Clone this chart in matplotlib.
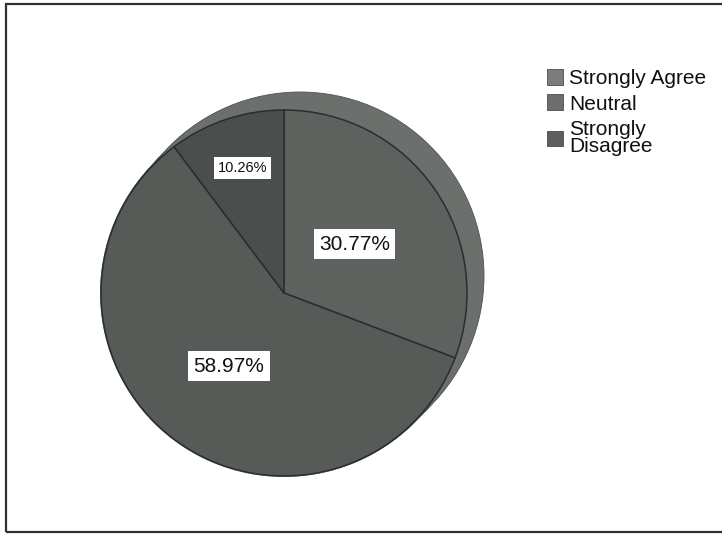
import numpy as np
import matplotlib
matplotlib.use("Agg")
import matplotlib.pyplot as plt
from matplotlib.patches import Circle, Patch, Rectangle

# Survey response shares (percent)
categories = ["Strongly Agree", "Neutral", "Strongly Disagree"]
legend_labels = ["Strongly Agree", "Neutral", "Strongly\nDisagree"]
shares = [30.77, 58.97, 10.26]

slice_colors = ["#5d625f", "#565b58", "#4a4e4c"]
swatch_colors = ["#7a7d7b", "#6b6e6c", "#5c5f5d"]
label_radius = [0.47, 0.50, 0.72]
label_sizes = [15, 15, 10.5]

plt.rcParams["font.family"] = ["Liberation Sans", "DejaVu Sans"]

W, H = 722, 534
fig = plt.figure(figsize=(W / 100, H / 100), dpi=100)
fig.patch.set_facecolor("white")
ax = fig.add_axes([0, 0, 1, 1])

# outer frame
ax.add_patch(Rectangle((6, 2), 730, 528, fill=False, edgecolor="#2e3232",
                       linewidth=1.6, zorder=1))

cx, cy, R = 284, 241, 183
depth = (16, 17)

# extruded rim behind the front face
for t in np.linspace(0, 1, 30):
    ax.add_patch(Circle((cx + depth[0] * t, cy + depth[1] * t), R + 1,
                        facecolor="#6b706d", edgecolor="none", zorder=2))
ax.add_patch(Circle((cx + depth[0], cy + depth[1]), R + 1, facecolor="none",
                    edgecolor="#505452", linewidth=0.6, zorder=2))

wedges, _ = ax.pie(shares, colors=slice_colors, startangle=90,
                   counterclock=False, center=(cx, cy), radius=R,
                   wedgeprops=dict(edgecolor="#2a2e2c", linewidth=1.1),
                   frame=True)
for w in wedges:
    w.set_zorder(3)
ax.set_xlim(0, W)
ax.set_ylim(0, H)
ax.set_aspect("equal")
ax.axis("off")

for w, v, rf, fs in zip(wedges, shares, label_radius, label_sizes):
    mid = np.deg2rad((w.theta1 + w.theta2) / 2)
    x = cx + rf * R * np.cos(mid)
    y = cy + rf * R * np.sin(mid)
    ax.text(x, y, f"{v:.2f}%", ha="center", va="center", fontsize=fs,
            color="#111111", zorder=5,
            bbox=dict(boxstyle="square,pad=0.25", facecolor="white",
                      edgecolor="none"))

handles = [Patch(facecolor=c, edgecolor="#4a4d4b", linewidth=0.6)
           for c in swatch_colors]
leg = fig.legend(handles, legend_labels, loc="upper left",
                 bbox_to_anchor=(532 / W, 1 - 54 / H), frameon=False,
                 fontsize=15, handlelength=0.8, handleheight=0.8,
                 handletextpad=0.3, labelspacing=0.32, borderpad=0.2)
for t in leg.get_texts():
    t.set_linespacing(0.85)
    t.set_color("#111111")

fig.savefig("out.png", dpi=100, facecolor="white")
